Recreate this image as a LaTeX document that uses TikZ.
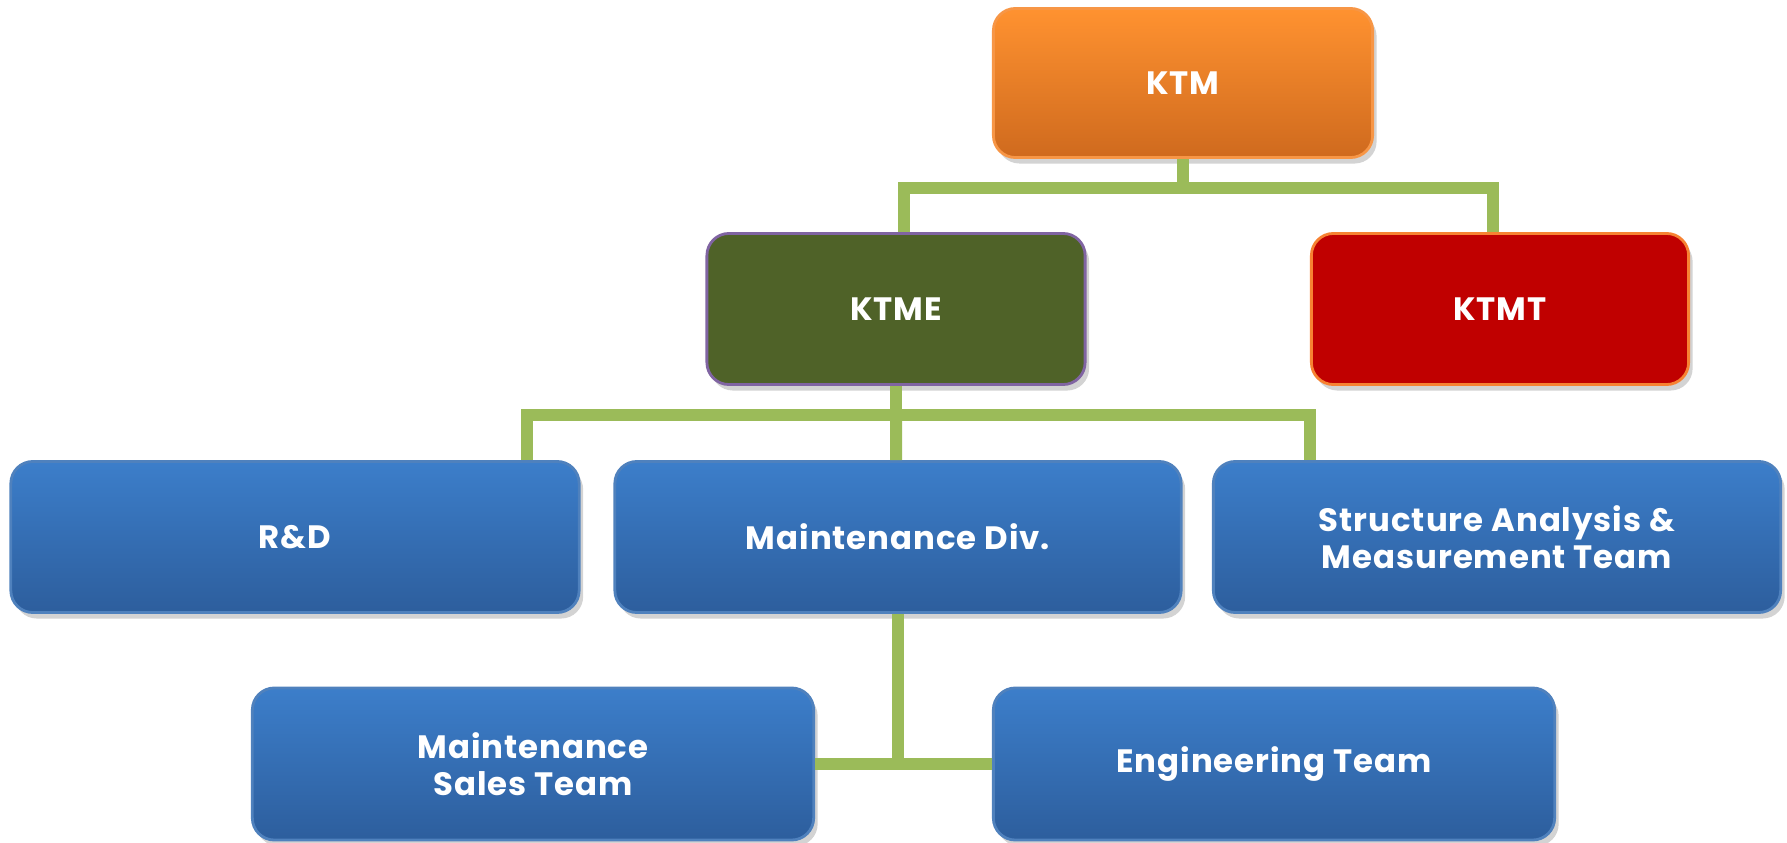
\documentclass[tikz,border=0pt]{standalone}
\usepackage{fontspec}
\setmainfont{Poppins}[LetterSpace=3]
\usetikzlibrary{shadows}

\begin{document}
\begin{tikzpicture}
[
x=0.01cm, y=0.01cm,
every node/.style={font=\bfseries\fontsize{9.2}{10.6}\selectfont, text=white, align=center},
Box/.style={rectangle, rounded corners=0.22cm, line width=0.8pt, inner sep=0pt,
  drop shadow={opacity=0.35, shadow xshift=0.04cm, shadow yshift=-0.06cm}},
Orange/.style={Box, draw={rgb,255:red,247;green,150;blue,70}, top color={rgb,255:red,255;green,146;blue,48}, bottom color={rgb,255:red,207;green,106;blue,30}},
Olive/.style={Box, draw={rgb,255:red,128;green,100;blue,162}, fill={rgb,255:red,79;green,98;blue,40}},
Crimson/.style={Box, draw={rgb,255:red,247;green,130;blue,50}, fill={rgb,255:red,192;green,0;blue,0}},
Blue/.style={Box, draw={rgb,255:red,79;green,129;blue,189}, top color={rgb,255:red,60;green,126;blue,202}, bottom color={rgb,255:red,45;green,94;blue,157}},
Link/.style={draw={rgb,255:red,155;green,187;blue,89}, line width=0.12cm},
]

\useasboundingbox (0,0) rectangle (1787,842);

% connectors first, boxes on top
\coordinate (TopBar) at (1183,654);
\coordinate (MidBar) at (896,427);
\coordinate (LowBar) at (898,78);

\node[Orange, minimum width=3.79cm, minimum height=1.49cm] (KTM) at (1183,759) {KTM};
\node[Olive, minimum width=3.78cm, minimum height=1.51cm] (KTME) at (896,533) {KTME};
\node[Crimson, minimum width=3.77cm, minimum height=1.51cm] (KTMT) at (1500,533) {KTMT};

\node[Blue, minimum width=5.68cm, minimum height=1.51cm] (RD) at (295,305) {R\&D};
\node[Blue, minimum width=5.66cm, minimum height=1.51cm] (MaintDiv) at (898,305) {Maintenance Div.};
\node[Blue, minimum width=5.67cm, minimum height=1.51cm] (Structure) at (1497,305) {Structure Analysis \&\\Measurement Team};

\node[Blue, minimum width=5.61cm, minimum height=1.52cm] (Sales) at (533,78) {Maintenance\\Sales Team};
\node[Blue, minimum width=5.61cm, minimum height=1.52cm] (Eng) at (1274,78) {Engineering Team};

\draw[Link] (KTM.south) -- (TopBar);
\draw[Link] ([xshift=0.08cm]KTME.north) |- (TopBar) -| ([xshift=-0.07cm]KTMT.north);

\draw[Link] (KTME.south) -- (MidBar);
\draw[Link] ([xshift=-0.54cm]RD.north east) |- (MidBar) -| ([xshift=0.98cm]Structure.north west);
\draw[Link] (MidBar) -- ([xshift=-0.02cm]MaintDiv.north);

\draw[Link] (MaintDiv.south) -- (LowBar);
\draw[Link] (Sales.east) -- (Eng.west);

\end{tikzpicture}
\end{document}
